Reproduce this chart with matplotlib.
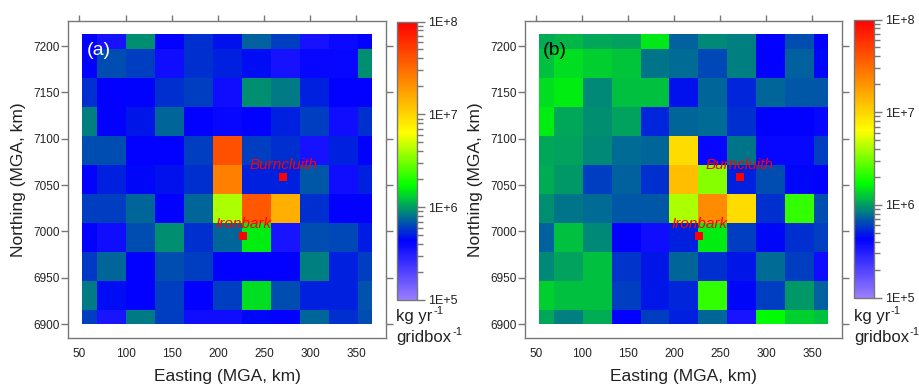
import numpy as np
import matplotlib
matplotlib.use("Agg")
import matplotlib.pyplot as plt
from matplotlib.colors import LinearSegmentedColormap, LogNorm
from matplotlib.ticker import LogLocator, FuncFormatter

plt.rcParams["font.family"] = ["Liberation Sans", "DejaVu Sans"]

# ---------------------------------------------------------------------------
# Data: log10 of emission (kg yr-1 gridbox-1), rows listed north -> south,
# columns west -> east
# ---------------------------------------------------------------------------

LOG_EMIS_A = [
    [5.63, 5.55, 5.97, 5.63, 5.74, 5.67, 5.86, 5.78, 5.55, 5.59, 5.63],
    [5.63, 5.82, 5.78, 5.57, 5.74, 5.71, 5.66, 5.54, 5.60, 5.60, 5.97],
    [5.74, 5.63, 5.64, 5.74, 5.78, 5.57, 5.97, 5.92, 5.71, 5.63, 5.63],
    [5.93, 5.63, 5.68, 5.87, 5.63, 5.60, 5.63, 5.71, 5.78, 5.57, 5.74],
    [5.82, 5.82, 5.63, 5.63, 5.78, 7.62, 5.78, 5.74, 5.54, 5.71, 5.63],
    [5.63, 5.71, 5.65, 5.67, 5.74, 7.40, 5.71, 5.71, 5.84, 5.57, 5.71],
    [5.78, 5.78, 5.87, 5.63, 5.87, 6.61, 7.58, 7.17, 5.74, 5.63, 5.63],
    [5.63, 5.57, 5.82, 5.97, 5.74, 5.87, 6.19, 5.53, 5.82, 5.80, 5.70],
    [5.77, 5.87, 5.63, 5.82, 5.78, 5.63, 5.63, 5.63, 5.93, 5.71, 5.78],
    [5.92, 5.66, 5.63, 5.78, 5.63, 5.78, 6.15, 5.82, 5.71, 5.71, 5.83],
    [5.78, 5.53, 5.92, 5.78, 5.57, 5.57, 5.65, 5.63, 5.87, 5.74, 5.82],
]

LOG_EMIS_B = [
    [6.04, 6.06, 6.03, 6.01, 6.18, 5.86, 5.96, 5.93, 5.63, 5.82, 5.63],
    [6.08, 6.15, 6.12, 6.10, 5.91, 5.88, 5.80, 5.93, 5.63, 5.86, 5.65],
    [6.16, 6.19, 5.95, 6.08, 6.08, 5.67, 5.87, 5.72, 5.87, 5.84, 5.84],
    [6.19, 6.03, 5.97, 6.01, 5.72, 5.87, 5.89, 5.74, 5.63, 5.63, 5.60],
    [6.03, 6.01, 5.95, 5.89, 5.87, 6.96, 5.60, 5.91, 5.60, 5.60, 5.78],
    [6.04, 5.99, 5.78, 5.86, 5.74, 7.10, 6.53, 5.71, 5.82, 5.65, 5.63],
    [5.97, 5.91, 5.89, 5.84, 5.84, 6.61, 7.34, 6.96, 5.74, 6.34, 5.82],
    [5.86, 6.08, 5.95, 5.63, 5.57, 5.71, 6.19, 5.78, 5.65, 5.74, 5.78],
    [5.95, 6.01, 6.08, 5.76, 5.69, 5.87, 5.74, 5.69, 5.89, 5.78, 5.57],
    [6.12, 6.08, 6.08, 5.78, 5.69, 5.72, 6.34, 5.65, 5.78, 5.99, 5.86],
    [6.03, 5.93, 6.04, 5.63, 5.78, 5.71, 5.87, 5.53, 6.23, 6.12, 6.08],
]

PANEL_LABELS = ["(a)", "(b)"]
SITE_NAMES = ["Burncluith", "Ironbark"]
SITE_E = [270.9, 227.3]
SITE_N = [7059.0, 6995.3]

X_TICKS = [50, 100, 150, 200, 250, 300, 350]
Y_TICKS = [6900, 6950, 7000, 7050, 7100, 7150, 7200]

# grid cell edges (km), partial cells at the domain borders
X_EDGES = np.r_[53.3, 69.1 + 31.4 * np.arange(10), 367.0]
Y_EDGES = np.r_[6900.0, 6915.1 + 31.3 * np.arange(10), 7213.0]

cmap = LinearSegmentedColormap.from_list(
    "emis",
    [(0.00, "#9a7dff"), (0.21, "#0000ff"), (0.41, "#00ff00"),
     (0.60, "#ffff00"), (1.00, "#ff0000")],
)
norm = LogNorm(vmin=1e5, vmax=1e8)

SPINE = "#777777"
TXT = "#222222"
W, H = 920, 387

fig = plt.figure(figsize=(W / 100, H / 100), dpi=100)
renderer = fig.canvas.get_renderer()


def px_rect(x0, y0, x1, y1):
    return [x0 / W, 1 - y1 / H, (x1 - x0) / W, (y1 - y0) / H]


def unit_line(x_px, base_px, word):
    """word followed by a small raised '-1', positioned in pixels."""
    t = fig.text(x_px / W, 1 - base_px / H, word, fontsize=12, ha="left",
                 va="baseline", color=TXT)
    bb = t.get_window_extent(renderer)
    fig.text((bb.x1 + 0.5) / W, 1 - (base_px - 7) / H, "-1", fontsize=8,
             ha="left", va="baseline", color=TXT)


panels = [
    dict(ax=px_rect(68, 21, 386, 338), cax=px_rect(397, 21.5, 417.5, 300),
         data=LOG_EMIS_A, label_color="white", x0=68, ux=396.5),
    dict(ax=px_rect(525, 21, 842, 338), cax=px_rect(854.5, 19.5, 874.5, 297.5),
         data=LOG_EMIS_B, label_color="black", x0=525, ux=854),
]

for p, plabel in zip(panels, PANEL_LABELS):
    ax = fig.add_axes(p["ax"])
    vals = 10 ** np.flipud(np.array(p["data"]))
    mesh = ax.pcolormesh(X_EDGES, Y_EDGES, vals, cmap=cmap, norm=norm,
                         shading="flat", edgecolors="none")
    ax.set_xlim(37.7, 382.2)
    ax.set_ylim(6885, 7227)
    ax.set_xticks(X_TICKS)
    ax.set_yticks(Y_TICKS)
    for s in ax.spines.values():
        s.set_color(SPINE)
        s.set_linewidth(1.0)
    ax.tick_params(axis="x", direction="out", length=4.3, width=1.0, color=SPINE,
                   bottom=False, top=True, labelbottom=True, labeltop=False,
                   pad=2.7, labelsize=8.5, labelcolor=TXT)
    ax.tick_params(axis="y", direction="out", length=4.8, width=1.0, color=SPINE,
                   left=True, right=True, labelleft=True, labelright=False,
                   pad=1.0, labelsize=8.5, labelcolor=TXT)

    # sites
    for name, e, n in zip(SITE_NAMES, SITE_E, SITE_N):
        ax.plot(e, n, "s", color="#ff0000", markersize=5.3, markeredgewidth=0)
        ax.text(e, n + 8.5, name, color="#ff0000", fontsize=11, style="italic",
                ha="center", va="baseline")

    ax.text(57.5, 7195, plabel, color=p["label_color"], fontsize=14,
            ha="left", va="center")

    cx = p["ax"][0] + p["ax"][2] / 2
    fig.text(cx, 1 - 377 / H, "Easting (MGA, km)", fontsize=12.5,
             ha="center", va="center", color=TXT)
    fig.text((p["x0"] - 49) / W, 1 - 179.5 / H, "Northing (MGA, km)",
             fontsize=12.5, rotation=90, ha="center", va="center", color=TXT)

    # colour bar
    cax = fig.add_axes(p["cax"])
    cbar = fig.colorbar(mesh, cax=cax)
    cbar.outline.set_edgecolor(SPINE)
    cbar.outline.set_linewidth(1.0)
    cax.yaxis.set_major_locator(LogLocator(base=10))
    cax.yaxis.set_minor_locator(LogLocator(base=10, subs=np.arange(2, 10)))
    cax.yaxis.set_major_formatter(
        FuncFormatter(lambda v, pos: f"1E+{int(round(np.log10(v)))}"))
    cax.yaxis.set_minor_formatter(FuncFormatter(lambda v, pos: ""))
    cax.tick_params(which="major", length=5.5, width=1.0, color=SPINE,
                    labelsize=9, pad=2, labelcolor=TXT)
    cax.tick_params(which="minor", length=4.0, width=1.0, color=SPINE)

    unit_line(p["ux"], 321, "kg yr")
    unit_line(p["ux"], 342, "gridbox")

fig.savefig("out.png", dpi=100)
plt.close(fig)
